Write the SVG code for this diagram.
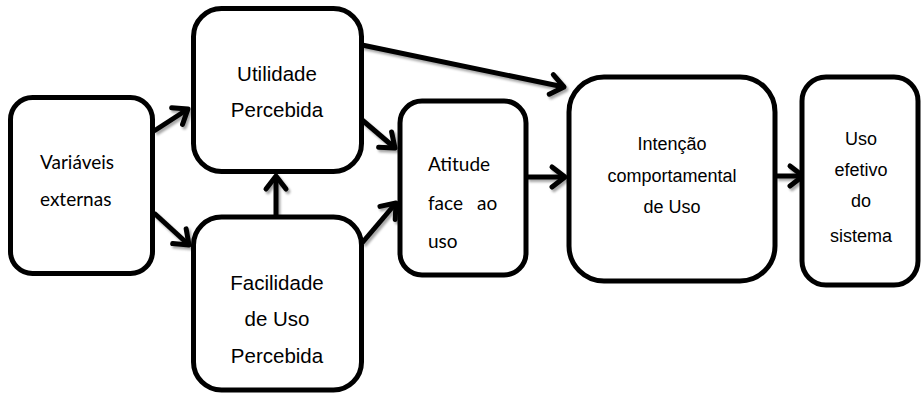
<svg xmlns="http://www.w3.org/2000/svg" width="922" height="394" viewBox="0 0 922 394">
<defs>
<style>
.box{fill:#fff;stroke:#000;stroke-width:5}
.conn{fill:none;stroke:#000;stroke-width:5;stroke-linecap:butt}
.arial{font-family:"Liberation Sans",Arial,sans-serif;fill:#000;text-anchor:middle}
.cal{font-family:Lato,"Open Sans",sans-serif;font-size:19px;fill:#000}
</style>
<marker id="ah" markerUnits="userSpaceOnUse" viewBox="-18 -14 22 28" markerWidth="22" markerHeight="28" refX="0" refY="0" orient="auto">
<path d="M-13,-10 L0,0 L-13,10" fill="none" stroke="#000" stroke-width="5" stroke-linecap="round" stroke-linejoin="round"/>
</marker>
<filter id="sh" x="-20%" y="-20%" width="140%" height="140%">
<feDropShadow dx="2" dy="2.5" stdDeviation="1" flood-color="#000" flood-opacity="0.35"/>
</filter>
</defs>
<g id="connectors" filter="url(#sh)">
<line class="conn" x1="154" y1="131" x2="188" y2="109" marker-end="url(#ah)"/>
<line class="conn" x1="154" y1="213" x2="189" y2="245" marker-end="url(#ah)"/>
<line class="conn" x1="276" y1="226" x2="276" y2="176" marker-end="url(#ah)"/>
<line class="conn" x1="362" y1="45" x2="564" y2="87" marker-end="url(#ah)"/>
<line class="conn" x1="361" y1="119" x2="395" y2="148" marker-end="url(#ah)"/>
<line class="conn" x1="362" y1="243" x2="396" y2="203" marker-end="url(#ah)"/>
<line class="conn" x1="527" y1="177" x2="565" y2="177" marker-end="url(#ah)"/>
<line class="conn" x1="776" y1="176" x2="803" y2="176" marker-end="url(#ah)"/>
</g>
<g id="variaveis">
<rect class="box" x="10.5" y="97.5" width="142" height="176" rx="22"/>
<text class="cal" x="40" y="169">Variáveis</text>
<text class="cal" x="40" y="206">externas</text>
</g>
<g id="utilidade">
<rect class="box" x="193.5" y="8.5" width="168" height="163" rx="28"/>
<text class="arial" font-size="20.5" x="277" y="81">Utilidade</text>
<text class="arial" font-size="20.5" x="277" y="117">Percebida</text>
</g>
<g id="facilidade">
<rect class="box" x="193.5" y="217" width="168" height="173" rx="28"/>
<text class="arial" font-size="20.5" x="277" y="290">Facilidade</text>
<text class="arial" font-size="20.5" x="277" y="326">de Uso</text>
<text class="arial" font-size="20.5" x="277" y="362.5">Percebida</text>
</g>
<g id="atitude">
<rect class="box" x="400" y="101" width="126" height="174" rx="22"/>
<text class="cal" x="428" y="171">Atitude</text>
<text class="cal" x="428" y="210">face</text>
<text class="cal" x="477" y="210">ao</text>
<text class="cal" x="428" y="248">uso</text>
</g>
<g id="intencao">
<rect class="box" x="569" y="77" width="206" height="204" rx="35"/>
<text class="arial" font-size="18" x="672" y="150">Intenção</text>
<text class="arial" font-size="18" x="672" y="181.5">comportamental</text>
<text class="arial" font-size="18" x="672" y="212.5">de Uso</text>
</g>
<g id="uso">
<rect class="box" x="802" y="77" width="116" height="208" rx="24"/>
<text class="arial" font-size="18" x="861" y="145">Uso</text>
<text class="arial" font-size="18" x="861" y="176">efetivo</text>
<text class="arial" font-size="18" x="861" y="207">do</text>
<text class="arial" font-size="18" x="861" y="241.5">sistema</text>
</g>
</svg>
